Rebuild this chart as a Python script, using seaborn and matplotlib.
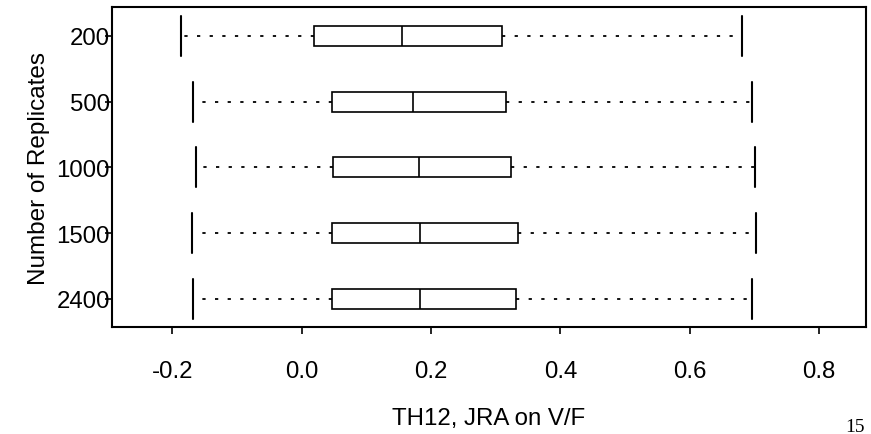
import matplotlib
matplotlib.use("Agg")
import matplotlib.pyplot as plt
import seaborn as sns
import pandas as pd

# Five-number summaries (lower whisker, Q1, median, Q3, upper whisker)
replicates = ["200", "500", "1000", "1500", "2400"]
lower_whisker = [-0.187, -0.168, -0.164, -0.170, -0.168]
q1 = [0.019, 0.047, 0.049, 0.047, 0.047]
median = [0.155, 0.172, 0.182, 0.183, 0.183]
q3 = [0.309, 0.316, 0.324, 0.335, 0.331]
upper_whisker = [0.681, 0.697, 0.701, 0.703, 0.697]

x_ticks = [-0.2, 0.0, 0.2, 0.4, 0.6, 0.8]
x_tick_labels = ["-0.2", "0.0", "0.2", "0.4", "0.6", "0.8"]

rows = []
for i, r in enumerate(replicates):
    for v in (lower_whisker[i], q1[i], median[i], q3[i], upper_whisker[i]):
        rows.append({"Replicates": r, "value": v})
df = pd.DataFrame(rows)

sns.set_style("white")
plt.rcParams["font.family"] = ["Liberation Sans", "DejaVu Sans"]
plt.rcParams["text.color"] = "black"
plt.rcParams["axes.labelcolor"] = "black"
plt.rcParams["xtick.color"] = "black"
plt.rcParams["ytick.color"] = "black"

fig = plt.figure(figsize=(8.71, 4.35), dpi=100)
ax = fig.add_axes([111.7 / 871, 1 - 328 / 435, (866 - 111.7) / 871, (328 - 8.3) / 435])

lw = 1.2
sns.boxplot(
    data=df, x="value", y="Replicates", order=replicates, orient="h",
    whis=(0, 100), width=0.304, capwidths=0.608,
    color="white", linecolor="black", linewidth=lw, fill=True,
    whiskerprops=dict(linestyle=(0, (1.8, 5.2)), color="black", linewidth=1.3),
    capprops=dict(color="black", linewidth=1.5),
    medianprops=dict(color="black", linewidth=lw),
    boxprops=dict(edgecolor="black", facecolor="white", linewidth=lw),
    showfliers=False, ax=ax,
)

ax.set_xlim(-0.2938, 0.8726)
ax.set_ylim(4.427, -0.432)
ax.set_xticks(x_ticks)
ax.set_xticklabels(x_tick_labels)

for s in ax.spines.values():
    s.set_visible(True)
    s.set_color("black")
    s.set_linewidth(1.5)

ax.tick_params(axis="x", direction="out", length=5, width=1.2, colors="black",
               labelsize=17.3, pad=19, bottom=True)
ax.tick_params(axis="y", direction="out", length=5, width=1.2, colors="black",
               labelsize=17.3, pad=-3.8, left=True)

ax.set_xlabel("TH12, JRA on V/F", fontsize=17.3, va="center", color="black")
ax.xaxis.set_label_coords(0.5, -0.285)
ax.set_ylabel("Number of Replicates", fontsize=17.5, va="center", color="black")
ax.yaxis.set_label_coords(-0.097, 0.5)

fig.text(855 / 871, -1 / 435, "15", family=["Liberation Serif", "DejaVu Serif"],
         fontsize=14, ha="center", va="bottom", color="black")

fig.savefig("out.png", dpi=100)
